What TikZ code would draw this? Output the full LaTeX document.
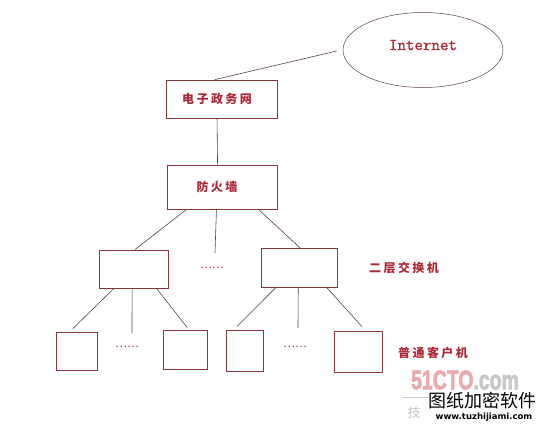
\documentclass[tikz,border=0pt]{standalone}
\usepackage{fontspec}
\usetikzlibrary{shapes.geometric,calc}
\newfontfamily\cjk[LetterSpace=20]{Noto Sans CJK SC}
\newfontfamily\cjkplain{Noto Sans CJK SC}
\newfontfamily\wmsans[FakeBold=2.5]{Liberation Sans}
\newfontfamily\wmurl{DejaVu Sans}
\newfontfamily\inetfont[FakeBold=1]{Latin Modern Mono}
\definecolor{boxred}{RGB}{135,55,60}
\definecolor{linebrown}{RGB}{95,65,65}
\definecolor{txtred}{RGB}{175,40,55}
\definecolor{wmpink}{RGB}{235,170,170}
\definecolor{wmgray}{RGB}{200,200,200}
\tikzset{
  box/.style={draw=boxred, line width=0.8pt, rectangle, inner sep=0pt},
  conn/.style={draw=linebrown, line width=0.6pt},
  lbl/.style={text=txtred, font=\cjk\bfseries\fontsize{12}{12}\selectfont, inner sep=0pt},
  dots/.style={text=txtred, font=\cjkplain\fontsize{11}{11}\selectfont, inner sep=0pt}
}
\begin{document}
\begin{tikzpicture}[x=1pt,y=-1pt]
\useasboundingbox[fill=white] (0,0) rectangle (542,429);
% nodes
\node[draw=linebrown, line width=0.5pt, ellipse, minimum width=160pt, minimum height=75pt, inner sep=0pt] (inet) at (423,50) {};
\node[text=txtred, font=\inetfont\fontsize{16.5}{16.5}\selectfont, inner sep=0pt] (inettxt) at (423,45) {Internet};
\node[box, minimum width=111pt, minimum height=38pt] (egov) at (221.5,99) {};
\node[lbl] (egovtxt) at (217,99) {电子政务网};
\node[box, minimum width=110pt, minimum height=44pt] (fw) at (222,187) {};
\node[lbl] (fwtxt) at (217,187) {防火墙};
\node[box, minimum width=69pt, minimum height=38pt] (sw1) at (133.5,269) {};
\node[box, minimum width=76pt, minimum height=39pt] (sw2) at (299,267.5) {};
\node[dots] (d1) at (212,268) {……};
\node[lbl, anchor=west] (swlbl) at (369,268) {二层交换机};
\node[box, minimum width=41pt, minimum height=38pt] (c1) at (76.5,351) {};
\node[box, minimum width=44pt, minimum height=39pt] (c2) at (185,349.5) {};
\node[box, minimum width=37pt, minimum height=41pt] (c3) at (244.5,350.5) {};
\node[box, minimum width=48pt, minimum height=41pt] (c4) at (358,351.5) {};
\node[dots] (d2) at (127,347) {……};
\node[dots] (d3) at (295,347) {……};
\node[lbl, anchor=west] (cllbl) at (398,353) {普通客户机};
% free ends
\coordinate (fwmid) at (215,253);
\coordinate (s1mid) at (132,333);
\coordinate (s2mid) at (298,328);
% connectors
\draw[conn] ($(inet.west)+(-6,1)$) -- ($(egov.north west)!0.44!(egov.north east)$);
\draw[conn] ($(egov.south west)!0.46!(egov.south east)$) -- ($(fw.north west)!0.46!(fw.north east)$);
\draw[conn] ($(fw.south west)!0.18!(fw.south east)$) -- ($(sw1.north west)!0.52!(sw1.north east)$);
\draw[conn] ($(fw.south west)!0.45!(fw.south east)$) -- (fwmid);
\draw[conn] ($(fw.south west)!0.83!(fw.south east)$) -- ($(sw2.north west)!0.51!(sw2.north east)$);
\draw[conn] ($(sw1.south west)!0.22!(sw1.south east)$) -- ($(c1.north west)!0.41!(c1.north east)+(0,-3)$);
\draw[conn] ($(sw1.south west)!0.48!(sw1.south east)$) -- (s1mid);
\draw[conn] ($(sw1.south west)!0.83!(sw1.south east)$) -- ($(c2.north west)!0.55!(c2.north east)+(0,-2)$);
\draw[conn] ($(sw2.south west)!0.2!(sw2.south east)$) -- ($(c3.north west)!0.3!(c3.north east)+(0,-3)$);
\draw[conn] ($(sw2.south west)!0.49!(sw2.south east)$) -- (s2mid);
\draw[conn] ($(sw2.south west)!0.86!(sw2.south east)$) -- ($(c4.north west)!0.58!(c4.north east)+(0,-4)$);
% watermark
\node[font=\wmsans\bfseries\fontsize{27}{27}\selectfont, inner sep=0pt, xscale=0.72, anchor=west] (wm1) at (411,380) {\textcolor{wmpink}{51CTO}\textcolor{wmgray}{.com}};
\coordinate (wmla) at (403,397);
\coordinate (wmlb) at (428,397);
\draw[wmgray, line width=1pt] (wmla) -- (wmlb);
\node[text=wmgray, font=\cjkplain\fontsize{13}{13}\selectfont, inner sep=0pt] (wm4) at (414,413) {技};
\node[text=black, font=\cjkplain\fontsize{18}{18}\selectfont, inner sep=0pt] (wm2) at (482,401) {图纸加密软件};
\node[text=black, font=\wmurl\bfseries\fontsize{8.5}{8.5}\selectfont, inner sep=0pt] (wm3) at (484,417) {www.tuzhijiami.com};
\end{tikzpicture}
\end{document}
